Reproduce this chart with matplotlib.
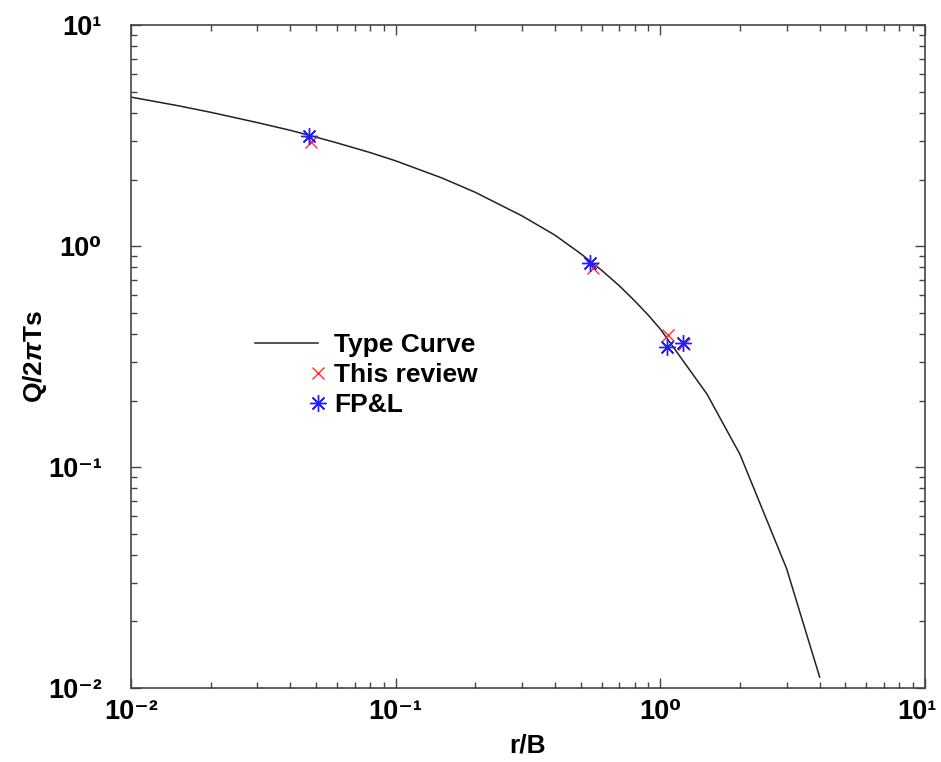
import numpy as np
import matplotlib
matplotlib.use("Agg")
import matplotlib.pyplot as plt
import matplotlib.transforms as mtransforms
from matplotlib.legend_handler import HandlerLine2DCompound
from matplotlib.ticker import LogLocator, NullFormatter, FuncFormatter

plt.rcParams['font.family'] = ['Liberation Sans', 'DejaVu Sans']
plt.rcParams['font.weight'] = 'bold'
plt.rcParams['axes.labelweight'] = 'bold'
plt.rcParams['mathtext.fontset'] = 'custom'
plt.rcParams['mathtext.rm'] = 'Liberation Sans:bold'
plt.rcParams['mathtext.it'] = 'Liberation Sans:bold:italic'
plt.rcParams['mathtext.bf'] = 'Liberation Sans:bold'

# type curve
curve_rB = [0.01, 0.015, 0.02, 0.03, 0.04, 0.05, 0.06, 0.08, 0.1, 0.15, 0.2,
            0.3, 0.4, 0.5, 0.6, 0.7, 0.8, 0.9, 1.0, 1.5, 2.0, 3.0, 4.0]
curve_val = [4.72, 4.32, 4.03, 3.62, 3.34, 3.11, 2.93, 2.65, 2.43, 2.03, 1.75,
             1.37, 1.12, 0.924, 0.777, 0.661, 0.565, 0.487, 0.421, 0.214, 0.114,
             0.0347, 0.0112]

# measured points
review_rB = [0.048, 0.556, 1.07, 1.23]
review_val = [2.96, 0.795, 0.396, 0.36]
fpl_rB = [0.047, 0.542, 1.06, 1.22]
fpl_val = [3.15, 0.838, 0.349, 0.364]

SUP = str.maketrans('-0123456789',
                    '\u207b\u2070\u00b9\u00b2\u00b3\u2074\u2075\u2076\u2077\u2078\u2079')


def dec_label(v, pos):
    e = int(round(np.log10(v)))
    return '10' + str(e).translate(SUP)


class RightMarker(HandlerLine2DCompound):
    # marker drawn at the right end of the legend handle
    def get_xdata(self, legend, xdescent, ydescent, width, height, fontsize):
        xd, _ = super().get_xdata(legend, xdescent, ydescent, width, height, fontsize)
        return xd, np.array([-xdescent + width])


fig = plt.figure(figsize=(9.41, 7.62), dpi=100)
ax = fig.add_axes([0.1392, 0.0971, 0.8438, 0.870])

ax.plot(curve_rB, curve_val, color='#222222', lw=1.1, label='Type Curve')
ax.plot(review_rB, review_val, ls='none', marker='x', ms=9, mew=1.0,
        color='#ff3030', label='This review')
ax.plot(fpl_rB, fpl_val, ls='none', marker=(8, 2, 0), ms=12, mew=1.0,
        color='#2020ff', label='FP&L')

ax.set_xscale('log')
ax.set_yscale('log')
ax.set_xlim(1e-2, 1e1)
ax.set_ylim(1e-2, 1e1)
ax.xaxis.set_major_locator(LogLocator(base=10, numticks=10))
ax.yaxis.set_major_locator(LogLocator(base=10, numticks=10))
ax.xaxis.set_minor_locator(LogLocator(base=10, subs=np.arange(2, 10), numticks=10))
ax.yaxis.set_minor_locator(LogLocator(base=10, subs=np.arange(2, 10), numticks=10))
ax.xaxis.set_major_formatter(FuncFormatter(dec_label))
ax.yaxis.set_major_formatter(FuncFormatter(dec_label))
ax.xaxis.set_minor_formatter(NullFormatter())
ax.yaxis.set_minor_formatter(NullFormatter())

ax.tick_params(which='both', direction='in', top=True, right=True,
               color='#444444', labelsize=19.5)
ax.tick_params(which='major', length=7, width=1)
ax.tick_params(which='minor', length=4, width=1)
ax.tick_params(axis='x', pad=8)
ax.tick_params(axis='y', pad=21)
for sp in ax.spines.values():
    sp.set_color('#444444')
    sp.set_linewidth(1.2)

ax.set_xlabel('r/B', fontsize=19, labelpad=6)
ax.set_ylabel('Q/2$\\pi$Ts', fontsize=19, labelpad=-1)

ax.legend(loc='upper left', bbox_to_anchor=(0.156, 0.535), frameon=False,
          fontsize=19, handlelength=2.4, handletextpad=0.6, labelspacing=0.22,
          borderpad=0, borderaxespad=0, numpoints=1,
          handler_map={matplotlib.lines.Line2D: RightMarker()})

# the last x label sits against the figure edge, nudge it in a little
fig.canvas.draw()
last = [t for t in ax.get_xticklabels() if t.get_text() == dec_label(10.0, 0)]
for t in last:
    t.set_transform(t.get_transform() + mtransforms.ScaledTranslation(-6 / 72, 0, fig.dpi_scale_trans))

fig.savefig('out.png', dpi=100)
